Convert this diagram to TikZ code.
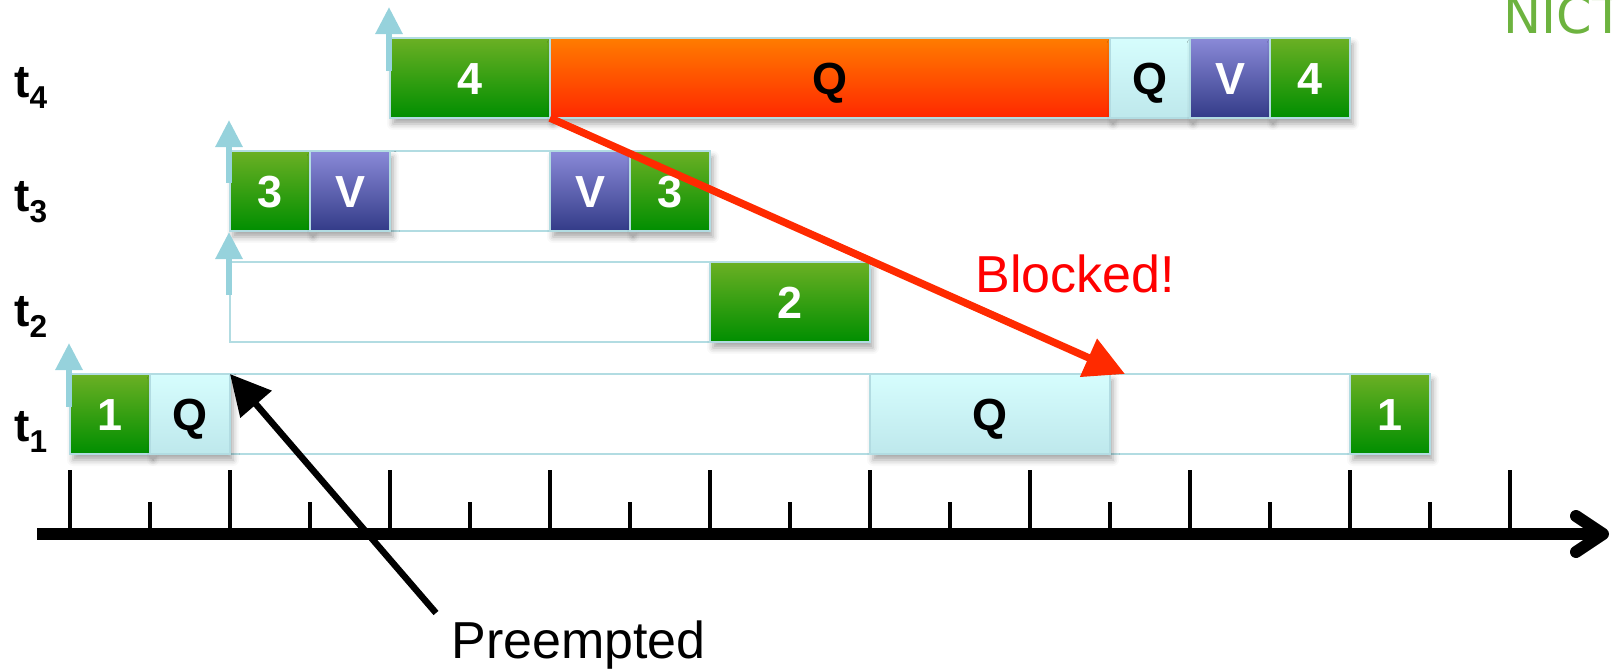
\documentclass[tikz,border=0pt]{standalone}
\usepackage{fontspec}
\setmainfont{Liberation Sans}
\newfontfamily\nictfont{DejaVu Sans}
\usetikzlibrary{arrows.meta,shadows.blur}

\definecolor{gtop}{HTML}{6BB024}
\definecolor{gbot}{HTML}{008E00}
\definecolor{vtop}{HTML}{8A8AD8}
\definecolor{vbot}{HTML}{333B88}
\definecolor{qtop}{HTML}{D6FDFD}
\definecolor{qbot}{HTML}{BEE8EC}
\definecolor{otop}{HTML}{FF7C00}
\definecolor{obot}{HTML}{FF2800}
\definecolor{edge}{HTML}{B2DCE2}
\definecolor{release}{HTML}{96D2DC}
\definecolor{blockred}{HTML}{FF2A00}
\definecolor{nictgreen}{HTML}{6DB33F}

\begin{document}
\begin{tikzpicture}[x=0.02cm,y=-0.02cm,
  wd/.style={minimum width=#1*0.02cm},
  cell/.style={draw=edge, line width=0.05cm, minimum height=1.6cm,
    inner sep=0pt, outer sep=0pt, text height=18.3pt, text depth=0pt,
    font=\fontsize{25.6pt}{28pt}\selectfont\bfseries,
    blur shadow={shadow xshift=0.06cm, shadow yshift=-0.12cm,
      shadow blur radius=0.12cm, shadow opacity=35}},
  grn/.style={cell, top color=gtop, bottom color=gbot, text=white},
  vio/.style={cell, top color=vtop, bottom color=vbot, text=white},
  cya/.style={cell, top color=qtop, bottom color=qbot, text=black},
  org/.style={cell, top color=otop, bottom color=obot, text=black},
  frame/.style={draw=edge, line width=0.04cm, minimum height=1.6cm,
    inner sep=0pt, outer sep=0pt},
  rel/.style={draw=release, line width=0.12cm,
    -{Triangle[length=0.54cm,width=0.52cm]}},
  tick/.style={line width=0.09cm},
  axis/.style={line width=0.24cm, line cap=round, line join=round},
  tlabel/.style={anchor=base west, inner sep=0pt,
    font=\fontsize{26.2pt}{30pt}\selectfont\bfseries},
  note/.style={anchor=base west, inner sep=0pt,
    font=\fontsize{29.6pt}{34pt}\selectfont}
]
\useasboundingbox (0,0) rectangle (1612,669);

% task rows: empty frames first, then the execution slices
\node[frame, wd=960]  (f4) at (870,78) {};
\node[frame, wd=480]  (f3) at (470,191) {};
\node[frame, wd=640]  (f2) at (550,302) {};
\node[frame, wd=1360] (f1) at (750,414) {};

% t4
\node[grn, wd=160] (b4a) at (470,78) {4};
\node[org, wd=560] (b4q) at (830,78) {Q};
\node[cya, wd=80]  (b4r) at (1150,78) {Q};
\node[vio, wd=80]  (b4v) at (1230,78) {V};
\node[grn, wd=80]  (b4b) at (1310,78) {4};
% t3
\node[grn, wd=80] (b3a) at (270,191) {3};
\node[vio, wd=80] (b3v) at (350,191) {V};
\node[vio, wd=80] (b3w) at (590,191) {V};
\node[grn, wd=80] (b3b) at (670,191) {3};
% t2
\node[grn, wd=160] (b2) at (790,302) {2};
% t1
\node[grn, wd=80]  (b1a) at (110,414) {1};
\node[cya, wd=80]  (b1q) at (190,414) {Q};
\node[cya, wd=240] (b1r) at (990,414) {Q};
\node[grn, wd=80]  (b1b) at (1390,414) {1};

% release markers
\draw[rel] ([xshift=-0.02cm,yshift=-0.66cm]f4.north west) -- ([xshift=-0.02cm,yshift=0.62cm]f4.north west);
\draw[rel] ([xshift=-0.02cm,yshift=-0.64cm]f3.north west) -- ([xshift=-0.02cm,yshift=0.62cm]f3.north west);
\draw[rel] ([xshift=-0.02cm,yshift=-0.66cm]f2.north west) -- ([xshift=-0.02cm,yshift=0.60cm]f2.north west);
\draw[rel] ([xshift=-0.02cm,yshift=-0.66cm]f1.north west) -- ([xshift=-0.02cm,yshift=0.62cm]f1.north west);

% row labels
\node[tlabel] (l4) at (14,97)  {t\raisebox{-6.3pt}{\fontsize{18pt}{18pt}\selectfont 4}};
\node[tlabel] (l3) at (14,211) {t\raisebox{-6.3pt}{\fontsize{18pt}{18pt}\selectfont 3}};
\node[tlabel] (l2) at (14,326) {t\raisebox{-6.3pt}{\fontsize{18pt}{18pt}\selectfont 2}};
\node[tlabel] (l1) at (14,441) {t\raisebox{-6.3pt}{\fontsize{18pt}{18pt}\selectfont 1}};

% time axis
\foreach \k in {0,2,...,18} \draw[tick] ({70+80*\k},470) -- ({70+80*\k},534);
\foreach \k in {1,3,...,17} \draw[tick] ({70+80*\k},502) -- ({70+80*\k},534);
\coordinate (axL) at (37,534);
\coordinate (axR) at (1603,534);
\draw[axis, line cap=butt] (axL) -- (axR);
\draw[axis] ([xshift=-0.54cm,yshift=0.36cm]axR) -- (axR) -- ([xshift=-0.54cm,yshift=-0.36cm]axR);

% annotations
\coordinate (blk) at (1125,374);
\draw[blockred, line width=0.15cm, -{Triangle[length=0.8cm,width=0.8cm]}] (b4a.south east) -- (blk);
\node[note, text=red] (blocked) at (975,292) {Blocked!};

\coordinate (pre) at (436,613);
\draw[black, line width=0.13cm, -{Triangle[length=0.8cm,width=0.8cm]}] (pre) -- (b1q.north east);
\node[note] (preempted) at (451,658) {Preempted};

% logo text running off the top right corner
\node[anchor=base west, inner sep=0pt, text=nictgreen,
  font=\nictfont\fontsize{29pt}{32pt}\selectfont] (nict) at (1503,34) {NICT};
\end{tikzpicture}
\end{document}
